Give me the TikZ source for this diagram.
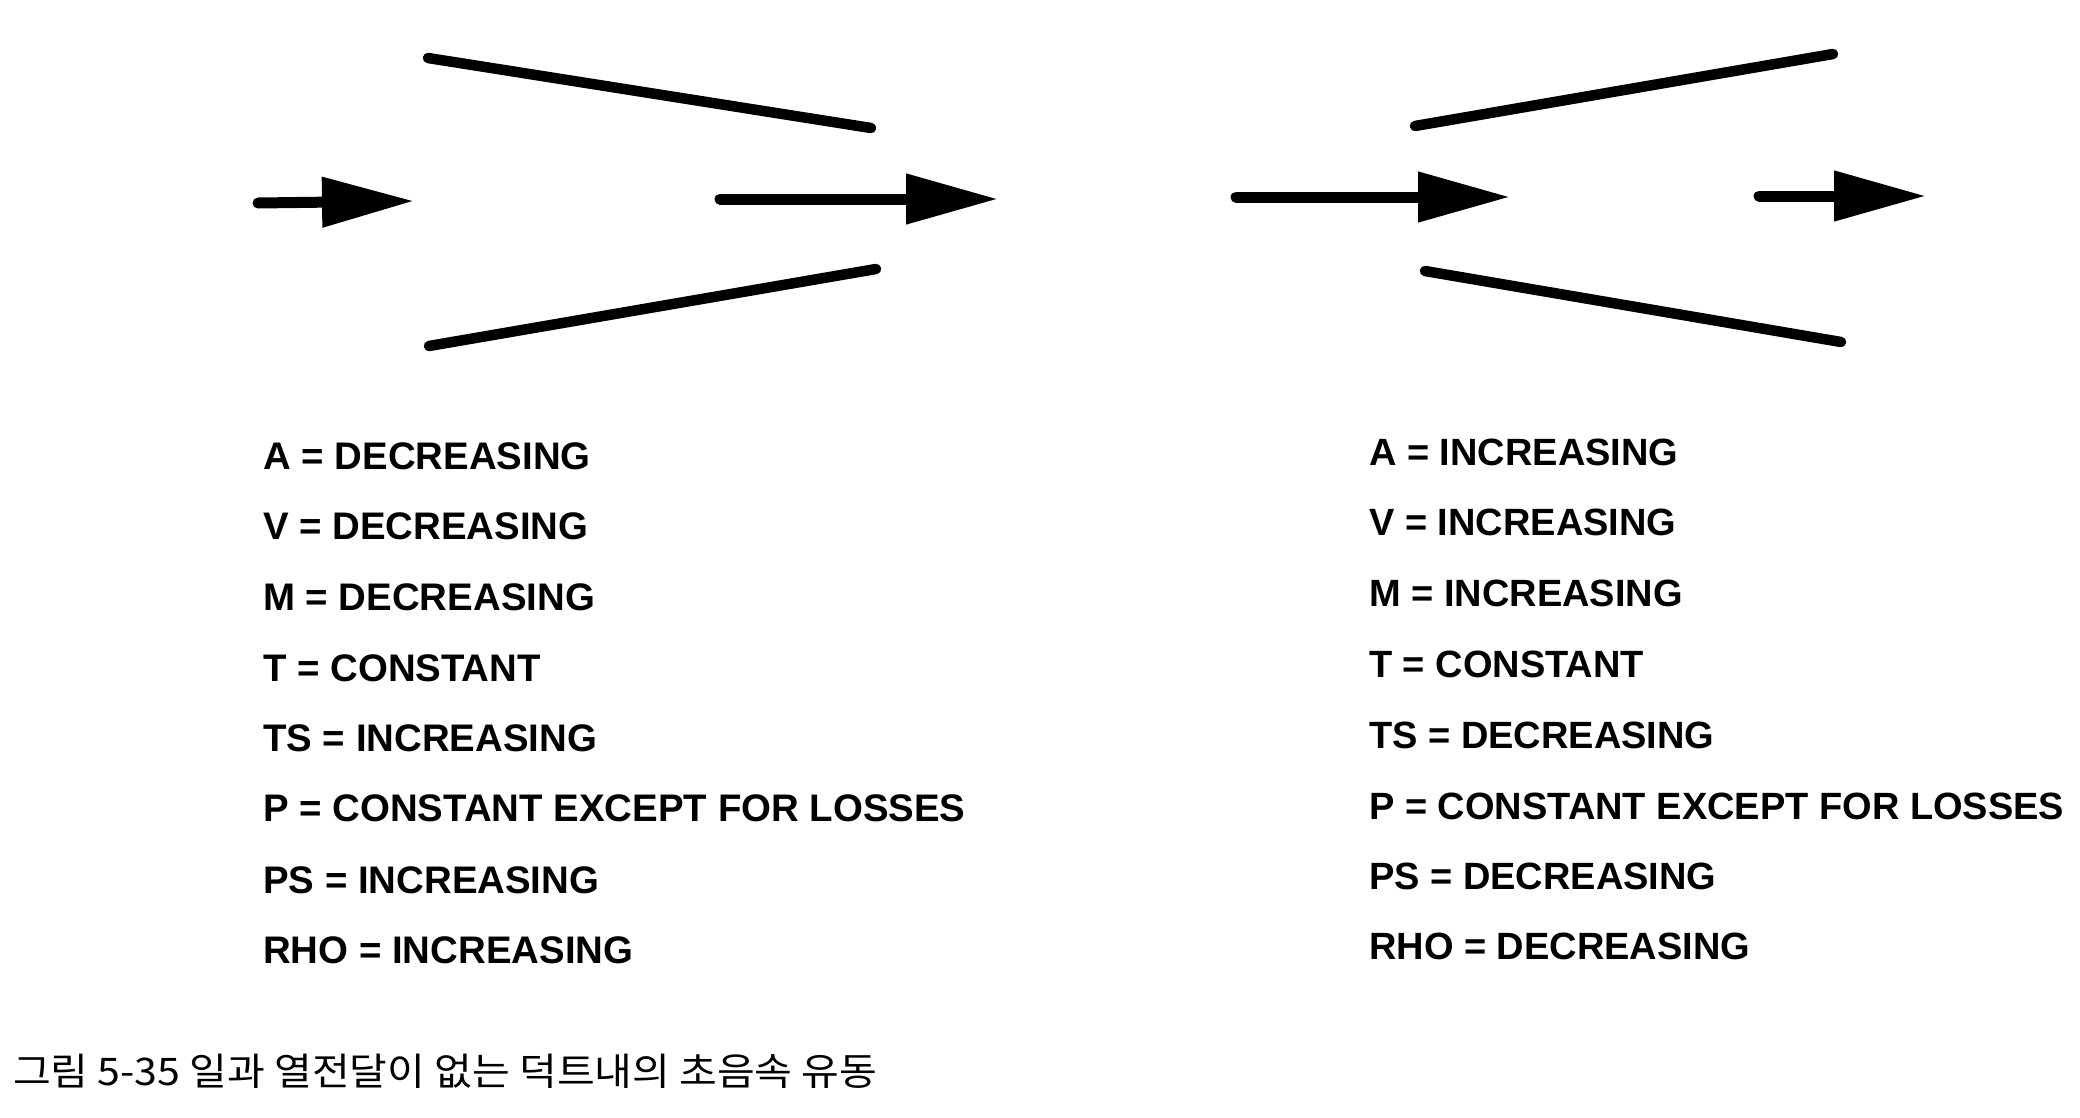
\documentclass[tikz,border=0pt]{standalone}
\usepackage{fontspec}
\setmainfont{Liberation Sans}
\newfontfamily\cjkfont{Noto Sans CJK KR}[FakeStretch=1.08]
\usetikzlibrary{arrows.meta}
\tikzset{
  wall/.style={line width=10.5pt,line cap=round,black},
  flow/.style={line width=11pt,line cap=round,black,-{Triangle[length=92pt,width=48pt]}},
  prop/.style={anchor=base west,inner sep=0pt,font=\fontsize{38.4}{38.4}\selectfont\bfseries},
  propr/.style={anchor=base west,inner sep=0pt,font=\fontsize{38}{38}\selectfont\bfseries},
  caption/.style={anchor=base west,inner sep=0pt,font=\fontsize{38}{38}\selectfont\cjkfont}
}
\begin{document}
\begin{tikzpicture}[x=1pt,y=-1pt]
\useasboundingbox (0,0) rectangle (2080,1117);
\fill[white] (0,0) rectangle (2080,1117);
% left duct
\coordinate (lta) at (428,58);
\coordinate (ltb) at (871,128);
\coordinate (lba) at (429,346);
\coordinate (lbb) at (876,269);
\coordinate (la1) at (258,203);
\coordinate (la2) at (414,201);
\coordinate (lb1) at (720,199);
\coordinate (lb2) at (998,199);
\draw[wall] (lta) -- (ltb);
\draw[wall] (lba) -- (lbb);
\draw[flow] (la1) -- (la2);
\draw[flow] (lb1) -- (lb2);
% right duct
\coordinate (rta) at (1415,126);
\coordinate (rtb) at (1833,54);
\coordinate (rba) at (1425,271);
\coordinate (rbb) at (1841,342);
\coordinate (ra1) at (1236,197);
\coordinate (ra2) at (1510,197);
\coordinate (rb1) at (1759,196);
\coordinate (rb2) at (1926,196);
\draw[wall] (rta) -- (rtb);
\draw[wall] (rba) -- (rbb);
\draw[flow] (ra1) -- (ra2);
\draw[flow] (rb1) -- (rb2);
% left list
\node[prop] (l1) at (263,469) {A = DECREASING};
\node[prop] (l2) at (263,539) {V = DECREASING};
\node[prop] (l3) at (263,610) {M = DECREASING};
\node[prop] (l4) at (263,681) {T = CONSTANT};
\node[prop] (l5) at (263,751) {TS = INCREASING};
\node[prop] (l6) at (263,821) {P = CONSTANT EXCEPT FOR LOSSES};
\node[prop] (l7) at (263,893) {PS = INCREASING};
\node[prop] (l8) at (263,963) {RHO = INCREASING};
% right list
\node[propr] (r1) at (1369,465) {A = INCREASING};
\node[propr] (r2) at (1369,535) {V = INCREASING};
\node[propr] (r3) at (1369,606) {M = INCREASING};
\node[propr] (r4) at (1369,677) {T = CONSTANT};
\node[propr] (r5) at (1369,748) {TS = DECREASING};
\node[propr] (r6) at (1369,819) {P = CONSTANT EXCEPT FOR LOSSES};
\node[propr] (r7) at (1369,889) {PS = DECREASING};
\node[propr] (r8) at (1369,959) {RHO = DECREASING};
% caption
\node[caption] (cap) at (13,1085) {그림 5-35 일과 열전달이 없는 덕트내의 초음속 유동};
\end{tikzpicture}
\end{document}
